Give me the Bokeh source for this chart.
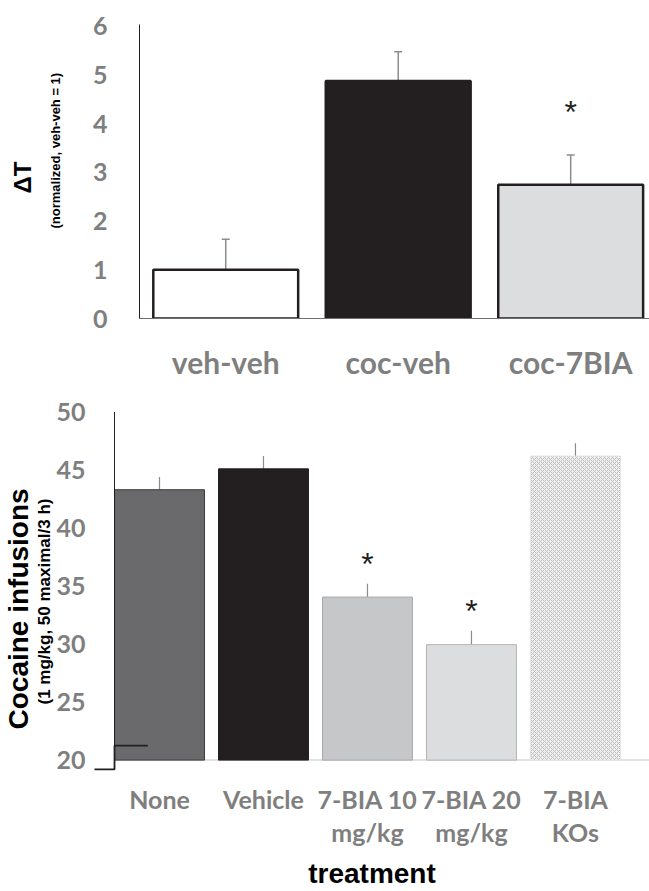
from bokeh.plotting import figure
from bokeh.models import ColumnDataSource, Whisker, TeeHead, Title, FixedTicker, Range1d
from bokeh.layouts import column
from bokeh.core.properties import value
from bokeh.embed import file_html
from bokeh.resources import INLINE

# ---------------- data ----------------
top_groups = ["veh-veh", "coc-veh", "coc-7BIA"]
top_means = [1.0, 4.88, 2.75]
top_sem = [0.63, 0.60, 0.61]
top_sig = [False, False, True]
top_yticks = [0, 1, 2, 3, 4, 5, 6]

bot_groups = ["None", "Vehicle", "7-BIA 10\nmg/kg", "7-BIA 20\nmg/kg", "7-BIA\nKOs"]
bot_means = [43.3, 45.1, 34.05, 29.95, 46.2]
bot_sem = [1.1, 1.1, 1.15, 1.2, 1.1]
bot_sig = [False, False, True, True, False]
bot_yticks = [20, 25, 30, 35, 40, 45, 50]
bot_base = 20

GRAY = "#7f7f7f"
DARK = "#231f20"
TICK_FONT = "Lato"
TITLE_FONT = "Liberation Sans"


def style_axis(ax, ticks, size, standoff):
    ax.ticker = FixedTicker(ticks=ticks)
    ax.major_tick_line_color = None
    ax.minor_tick_line_color = None
    ax.major_label_standoff = standoff
    ax.major_label_text_font = TICK_FONT
    ax.major_label_text_font_style = "bold"
    ax.major_label_text_font_size = size
    ax.major_label_text_color = GRAY


def side_title(text, size, standoff, offset):
    return Title(text=text, align="left", text_font=TITLE_FONT, text_font_style="bold",
                 text_font_size=size, text_color="#000000", standoff=standoff, offset=offset)


# ---------------- top chart ----------------
tx = list(range(len(top_groups)))
tw = 0.84
p1 = figure(width=649, height=393, x_range=Range1d(-0.5, 2.457), y_range=Range1d(0, 6.04),
            output_backend="svg", toolbar_location=None,
            min_border_left=139, min_border_right=0, min_border_top=24, min_border_bottom=75)
p1.frame_align = False
p1.outline_line_color = None
p1.xgrid.grid_line_color = None
p1.ygrid.grid_line_color = None

src1 = ColumnDataSource(dict(
    x=tx, top=top_means, upper=[m + s for m, s in zip(top_means, top_sem)],
    fill=["#ffffff", DARK, "#dcdddf"]))
p1.vbar(x="x", top="top", bottom=0, width=tw, source=src1, fill_color="fill",
        line_color=DARK, line_width=2.5)
p1.add_layout(Whisker(source=src1, base="x", lower="top", upper="upper",
                      line_color="#8c8c8c", line_width=1.5,
                      upper_head=TeeHead(size=8, line_color="#8c8c8c", line_width=1.5),
                      lower_head=None))
sx1 = [x for x, s in zip(tx, top_sig) if s]
sy1 = [m + e for m, e, s in zip(top_means, top_sem, top_sig) if s]
p1.text(x=sx1, y=sy1, text=["*"] * len(sx1), y_offset=-43, text_align="center",
        text_baseline="middle", text_font=value(TITLE_FONT), text_font_size="32px",
        text_color=DARK)

ya = p1.yaxis[0]
style_axis(ya, top_yticks, "25px", 26)
ya.axis_line_color = DARK
ya.axis_line_width = 1

xa = p1.xaxis[0]
style_axis(xa, tx, "30px", 19)
xa.major_label_overrides = {i: g for i, g in enumerate(top_groups)}
xa.axis_line_color = "#6e6e6e"
xa.axis_line_width = 1

p1.add_layout(side_title("(normalized, veh-veh = 1)", "13px", 53, 90), "left")
p1.add_layout(side_title("ΔT", "24px", -33, 125), "left")

# ---------------- bottom chart ----------------
bx = list(range(len(bot_groups)))
bw = 0.865
p2 = figure(width=649, height=498, x_range=Range1d(-0.625, 4.712), y_range=Range1d(18.846, 50.3),
            output_backend="svg", toolbar_location=None,
            min_border_left=94, min_border_right=0, min_border_top=15, min_border_bottom=115)
p2.frame_align = False
p2.outline_line_color = None
p2.xgrid.grid_line_color = None
p2.ygrid.grid_line_color = None

axis_x = bx[0] - bw / 2
p2.segment(x0=[axis_x], y0=[bot_base], x1=[p2.x_range.end], y1=[bot_base],
           line_color="#d9d9d9", line_width=1.5)

src2 = ColumnDataSource(dict(
    x=bx, top=bot_means, upper=[m + s for m, s in zip(bot_means, bot_sem)],
    fill=["#6a6a6c", DARK, "#c6c7c9", "#dcdddf", "#f0f0f0"],
    line=["#3a3a3a", DARK, "#a8a8a8", "#b4b4b4", "#e4e4e4"],
    hatch=[" ", " ", " ", " ", "x"]))
p2.vbar(x="x", top="top", bottom=bot_base, width=bw, source=src2, fill_color="fill",
        line_color="line", line_width=1, hatch_pattern="hatch", hatch_color="#bdbdbd",
        hatch_scale=4, hatch_weight=1)
# y-axis line and the axis-break mark at its foot
p2.segment(x0=[axis_x], y0=[bot_base], x1=[axis_x], y1=[bot_yticks[-1]],
           line_color=DARK, line_width=1)
p2.line(x=[axis_x - 0.21, axis_x, axis_x, axis_x + 0.32],
        y=[bot_base - 0.8, bot_base - 0.8, bot_base + 1.25, bot_base + 1.25],
        line_color=DARK, line_width=1.8)
p2.add_layout(Whisker(source=src2, base="x", lower="top", upper="upper",
                      line_color="#8c8c8c", line_width=1.2, upper_head=None, lower_head=None))
sx2 = [x for x, s in zip(bx, bot_sig) if s]
sy2 = [m + e for m, e, s in zip(bot_means, bot_sem, bot_sig) if s]
p2.text(x=sx2, y=sy2, text=["*"] * len(sx2), y_offset=-20, text_align="center",
        text_baseline="middle", text_font=value(TITLE_FONT), text_font_size="32px",
        text_color=DARK)

ya2 = p2.yaxis[0]
style_axis(ya2, bot_yticks, "25px", 3)
ya2.axis_line_color = None

xa2 = p2.xaxis[0]
style_axis(xa2, bx, "25px", 4)
xa2.major_label_overrides = {i: g for i, g in enumerate(bot_groups)}
xa2.major_label_text_line_height = 1.1
xa2.axis_line_color = None
xa2.axis_label = "treatment"
xa2.axis_label_text_font = TITLE_FONT
xa2.axis_label_text_font_style = "bold"
xa2.axis_label_text_font_size = "28px"
xa2.axis_label_text_color = "#000000"
xa2.axis_label_standoff = 8

p2.add_layout(side_title("(1 mg/kg, 50 maximal/3 h)", "17px", -1, 69), "left")
p2.add_layout(side_title("Cocaine infusions", "28px", -1, 44), "left")

layout = column(p1, p2, spacing=0)
open("out.html", "w").write(file_html(layout, INLINE))
